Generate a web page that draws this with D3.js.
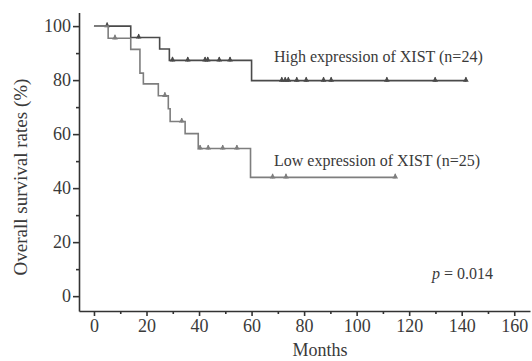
<!DOCTYPE html>
<html>
<head>
<meta charset="utf-8">
<script src="https://cdn.jsdelivr.net/npm/d3@7"></script>
<style>
  body { margin: 0; background: #fff; }
  text { font-family: "Liberation Serif", "Times New Roman", serif; fill: #3a3a3a; }
</style>
</head>
<body>
<svg id="chart" width="532" height="361"></svg>
<script>
// step points [month, survival %]
const highSteps = [[0, 100], [14, 95.8], [25, 91.5], [28.7, 87.3], [60, 79.8], [141.6, 79.8]];
const highCensor = [5, 17, 29.9, 35.7, 42.3, 43.3, 47.7, 51.8, 71.5, 72.8, 74, 77.2, 80.8, 87.4, 90.3, 111.5, 129.9, 141.6];
const lowSteps = [[0, 100], [5.4, 95.5], [14, 91.4], [17.5, 82.6], [18.8, 78.6], [24.5, 74.2], [28.3, 69.4],
                  [29, 64.7], [34.7, 60.2], [39.7, 54.7], [59.6, 44], [114.7, 44]];
const lowCensor = [8, 27, 33.4, 40.4, 43.5, 49, 54.4, 68, 73.1, 114.7];
const xTicks = [0, 20, 40, 60, 80, 100, 120, 140, 160];
const xMinor = [10, 30, 50, 70, 90, 110, 130, 150];
const yTicks = [0, 20, 40, 60, 80, 100];
const yMinor = [10, 30, 50, 70, 90];

const svg = d3.select('#chart');
const x = d3.scaleLinear().domain([-5.7, 166]).range([79, 530]);
const y = d3.scaleLinear().domain([-5.5, 105]).range([311, 12.6]);

// survival value at time t for a step curve
const valueAt = (steps, t) => {
  let v = steps[0][1];
  steps.forEach((s) => { if (s[0] <= t) v = s[1]; });
  return v;
};

function drawCurve(steps, censor, color) {
  const line = d3.line().x((d) => x(d[0])).y((d) => y(d[1])).curve(d3.curveStepAfter);
  svg.append('path')
    .datum(steps)
    .attr('d', line)
    .attr('fill', 'none')
    .attr('stroke', color)
    .attr('stroke-width', 1.6);
  const g = svg.append('g');
  censor.forEach((t) => {
    const cx = x(t), cy = y(valueAt(steps, t));
    g.append('line')
      .attr('x1', cx).attr('x2', cx).attr('y1', cy - 3.5).attr('y2', cy + 1)
      .attr('stroke', color).attr('stroke-width', 1.3);
    g.append('path')
      .attr('d', d3.symbol(d3.symbolTriangle, 14)())
      .attr('transform', `translate(${cx},${cy - 0.5})`)
      .attr('fill', color);
  });
}

drawCurve(highSteps, highCensor, '#4a4a4a');
drawCurve(lowSteps, lowCensor, '#7e7e7e');

// axes
svg.append('g')
  .attr('transform', `translate(${x(-5.7)},0)`)
  .call(d3.axisLeft(y).tickValues(yTicks).tickSize(6).tickSizeOuter(0).tickPadding(2));
svg.append('g')
  .attr('transform', `translate(${x(-5.7)},0)`)
  .call(d3.axisLeft(y).tickValues(yMinor).tickSize(3).tickFormat(''))
  .select('.domain').remove();
svg.append('g')
  .attr('transform', `translate(0,${y(-5.5)})`)
  .call(d3.axisBottom(x).tickValues(xTicks).tickSize(5).tickSizeOuter(0).tickPadding(3));
svg.append('g')
  .attr('transform', `translate(0,${y(-5.5)})`)
  .call(d3.axisBottom(x).tickValues(xMinor).tickSize(3).tickFormat(''))
  .select('.domain').remove();

svg.selectAll('.domain, .tick line').attr('stroke', '#333').attr('stroke-width', 1.6);
svg.selectAll('.tick text')
  .style('font-family', '"Liberation Serif", serif')
  .style('font-size', '18px')
  .attr('fill', '#3a3a3a');

// labels
svg.append('text')
  .attr('x', 274).attr('y', 62)
  .style('font-size', '16px')
  .text('High expression of XIST (n=24)');
svg.append('text')
  .attr('x', 274).attr('y', 166)
  .style('font-size', '16px')
  .text('Low expression of XIST (n=25)');

const pText = svg.append('text')
  .attr('x', 432).attr('y', 279)
  .style('font-size', '16px');
pText.append('tspan').style('font-style', 'italic').text('p');
pText.append('tspan').text(' = 0.014');

svg.append('text')
  .attr('x', 320).attr('y', 356)
  .attr('text-anchor', 'middle')
  .style('font-size', '18px')
  .text('Months');

svg.append('text')
  .attr('transform', 'translate(27,177) rotate(-90)')
  .attr('text-anchor', 'middle')
  .style('font-size', '19px')
  .text('Overall survival rates (%)');
</script>
</body>
</html>
